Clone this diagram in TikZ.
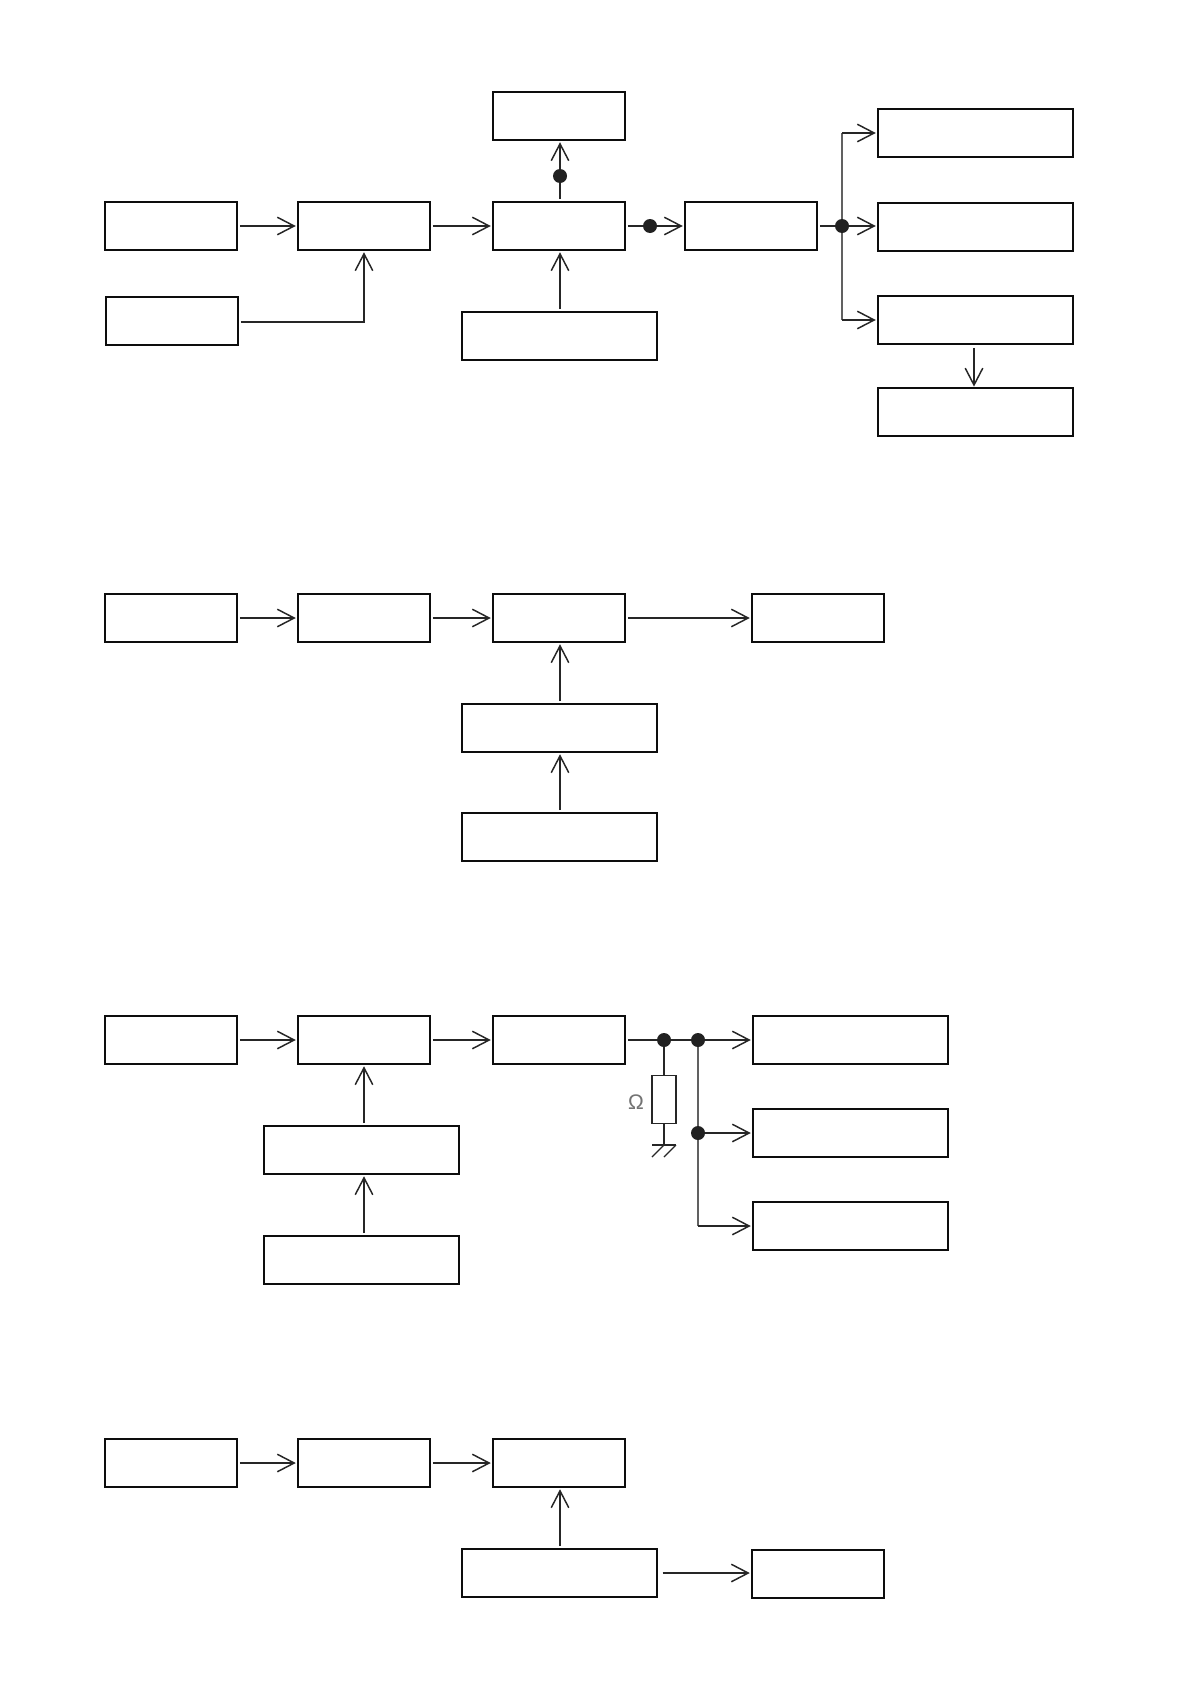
\documentclass[tikz,border=0pt]{standalone}
\usepackage{fontspec}
\setmainfont{Liberation Sans}
\usetikzlibrary{arrows.meta,calc}
\tikzset{
  block/.style={draw=black!95,line width=3.1pt,outer sep=0pt,inner sep=0pt,minimum height=2.4cm},
  nbox/.style={block,minimum width=6.6cm},
  wbox/.style={block,minimum width=9.75cm},
  conn/.style={draw=black!85,line width=2.1pt},
  flow/.style={conn,-{Straight Barb[length=24pt,width=25pt,line width=2.1pt]},shorten >=3.2pt,shorten <=4pt},
  branch/.style={conn,-{Straight Barb[length=24pt,width=25pt,line width=2.1pt]},shorten >=3.2pt},
  grayline/.style={draw=black!62,line width=2.3pt},
  dot/.style={circle,fill=black!87,inner sep=0pt,minimum size=0.7cm,outer sep=0pt},
  resistor/.style={draw=black!85,line width=1.5pt,outer sep=0pt,inner sep=0pt,minimum width=1.2cm,minimum height=2.42cm},
  gnd/.style={draw=black!85,line width=1.7pt},
}
\begin{document}
\begin{tikzpicture}[x=0.05cm,y=-0.05cm]
\useasboundingbox[fill=white] (0,0) rectangle (1190,1684);
% ---- Diagram 1
\node[nbox] (a1) at (171,226) {};
\node[nbox] (a2) at (364,226) {};
\node[nbox] (a3) at (559,226) {};
\node[nbox] (a4) at (751,226) {};
\node[nbox] (a5) at (172,321) {};
\node[nbox] (a6) at (559,116) {};
\node[wbox] (a7) at (559.5,336) {};
\node[wbox] (r1) at (975.5,133) {};
\node[wbox] (r2) at (975.5,227) {};
\node[wbox] (r3) at (975.5,320) {};
\node[wbox] (r4) at (975.5,412) {};
\draw[flow] (a1.east) -- (a2.west);
\draw[flow] (a2.east) -- (a3.west);
\draw[flow] (a7.north -| 560,0) -- (a3.south -| 560,0);
\draw[flow] (a5.east |- 0,322) -| (a2.south);
\draw[flow] (a3.north -| 560,0) -- (a6.south -| 560,0);
\node[dot] (d1) at (560,176) {};
\draw[flow] (a3.east) -- (a4.west);
\node[dot] (d2) at (650,226) {};
\coordinate (j) at (842,226);
\draw[grayline] (j) -- (j |- r1.west);
\draw[grayline] (j) -- (j |- r3.west);
\draw[branch] (j |- r1.west) -- (r1.west);
\draw[branch] (j |- r3.west) -- (r3.west);
\draw[flow] (a4.east) -- (r2.west |- a4.east);
\node[dot] (d3) at (j) {};
\draw[conn,-{Straight Barb[length=24pt,width=25pt,line width=2.1pt]},shorten >=2pt,shorten <=5.5pt] (r3.south -| 974,0) -- (r4.north -| 974,0);
% ---- Diagram 2
\node[nbox] (b1) at (171,618) {};
\node[nbox] (b2) at (364,618) {};
\node[nbox] (b3) at (559,618) {};
\node[nbox] (b4) at (818,618) {};
\node[wbox] (b5) at (559.5,728) {};
\node[wbox] (b6) at (559.5,837) {};
\draw[flow] (b1.east) -- (b2.west);
\draw[flow] (b2.east) -- (b3.west);
\draw[flow] (b3.east) -- (b4.west);
\draw[flow] (b5.north -| 560,0) -- (b3.south -| 560,0);
\draw[flow] (b6.north -| 560,0) -- (b5.south -| 560,0);
% ---- Diagram 3
\node[nbox] (c1) at (171,1040) {};
\node[nbox] (c2) at (364,1040) {};
\node[nbox] (c3) at (559,1040) {};
\node[wbox] (c4) at (361.5,1150) {};
\node[wbox] (c5) at (361.5,1260) {};
\node[wbox] (s1) at (850.5,1040) {};
\node[wbox] (s2) at (850.5,1133) {};
\node[wbox] (s3) at (850.5,1226) {};
\draw[flow] (c1.east) -- (c2.west);
\draw[flow] (c2.east) -- (c3.west);
\draw[flow] (c4.north -| 364,0) -- (c2.south -| 364,0);
\draw[flow] (c5.north -| 364,0) -- (c4.south -| 364,0);
\coordinate (k) at (698,1040);
\draw[grayline] (k) -- (k |- s3.west);
\draw[branch] (k |- s3.west) -- (s3.west);
\draw[flow] (c3.east) -- (s1.west);
\node[dot] (e1) at (664,1040) {};
\node[dot] (e2) at (k) {};
\node[dot] (e3) at (k |- s2.west) {};
\draw[branch] (e3) -- (s2.west);
\node[resistor] (res) at (664,1099.5) {};
\draw[conn] (e1) -- (res.north);
\coordinate (g) at (664,1145);
\draw[gnd] (res.south) -- (g);
\draw[gnd] (652,1145) -- (676,1145);
\draw[gnd] (g) -- (652,1157);
\draw[gnd] (676,1145) -- (664,1157);
\node[text=black!55,font=\fontsize{30}{30}\selectfont,inner sep=0pt] (om) at (636,1102) {Ω};
% ---- Diagram 4
\node[nbox] (f1) at (171,1463) {};
\node[nbox] (f2) at (364,1463) {};
\node[nbox] (f3) at (559,1463) {};
\node[wbox] (f4) at (559.5,1573) {};
\node[nbox] (f5) at (818,1574) {};
\draw[flow] (f1.east) -- (f2.west);
\draw[flow] (f2.east) -- (f3.west);
\draw[flow] (f4.north -| 560,0) -- (f3.south -| 560,0);
\draw[flow,shorten <=8pt] (f4.east) -- (f5.west |- f4.east);
\end{tikzpicture}
\end{document}
